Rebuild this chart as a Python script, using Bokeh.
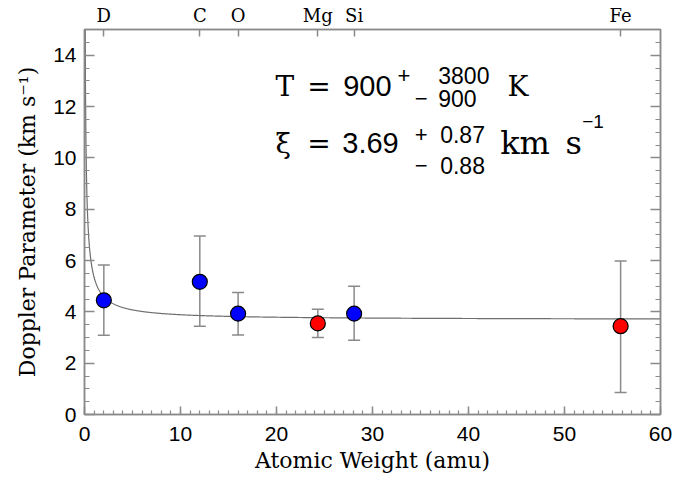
import numpy as np
from bokeh.plotting import figure
from bokeh.models import (Range1d, LinearAxis, FixedTicker, SingleIntervalTicker,
                          Whisker, TeeHead, ColumnDataSource, Label, CustomJSTickFormatter)
from bokeh.embed import file_html
from bokeh.resources import INLINE

# ---- data ----
elements = ["D", "C", "O", "Mg", "Si", "Fe"]
atomic_weight = [2.014, 12.011, 15.999, 24.305, 28.086, 55.845]
b_value = [4.45, 5.17, 3.93, 3.55, 3.93, 3.44]
b_upper = [5.82, 6.95, 4.75, 4.10, 5.00, 5.98]
b_lower = [3.09, 3.44, 3.10, 3.00, 2.89, 0.86]
point_color = ["blue", "blue", "blue", "red", "blue", "red"]

# fitted model parameters (shown in the annotation)
T_FIT = 900.0      # K
XI_FIT = 3.69      # km/s

# model curve b = sqrt(2kT/m + xi^2)
model_A = np.linspace(0.05, 60, 1200)
model_b = np.sqrt(2 * 1.380649e-23 * T_FIT / (model_A * 1.66054e-27) / 1e6 + XI_FIT ** 2)

GRAY = "#8a8a8a"
SERIF = "DejaVu Serif"
SANS = "Liberation Sans"

p = figure(frame_width=576, frame_height=385,
           x_range=Range1d(0, 60), y_range=Range1d(0, 15),
           output_backend="svg", toolbar_location=None,
           min_border_left=84, min_border_right=18,
           min_border_top=29, min_border_bottom=66,
           background_fill_color="white", border_fill_color="white")
p.grid.visible = False
p.outline_line_color = GRAY
p.outline_line_width = 1.5

# bottom axis
xa = p.xaxis[0]
xa.ticker = SingleIntervalTicker(interval=10, num_minor_ticks=10)
xa.axis_label = "Atomic Weight (amu)"
# left axis
ya = p.yaxis[0]
ya.ticker = SingleIntervalTicker(interval=2, num_minor_ticks=4)
ya.axis_label = "Doppler Parameter (km s\u207b\u00b9)"

for ax in (xa, ya):
    ax.axis_line_color = GRAY
    ax.axis_line_width = 1.5
    ax.major_tick_line_color = GRAY
    ax.minor_tick_line_color = GRAY
    ax.major_tick_line_width = 1.5
    ax.minor_tick_line_width = 1.2
    ax.major_tick_out = 0
    ax.minor_tick_out = 0
    ax.major_label_text_font = SANS
    ax.major_label_text_font_size = "21px"
    ax.major_label_text_color = "black"
    ax.axis_label_text_font = SERIF
    ax.axis_label_text_font_size = "22px"
    ax.axis_label_text_font_style = "normal"
    ax.axis_label_text_color = "black"

xa.major_tick_in = 8
xa.minor_tick_in = 4
xa.major_label_standoff = 12
xa.axis_label_standoff = 4
ya.major_tick_in = 10
ya.minor_tick_in = 5
ya.major_label_standoff = 8
ya.axis_label_standoff = 10

# right axis (ticks only)
ra = LinearAxis(ticker=SingleIntervalTicker(interval=2, num_minor_ticks=4),
                formatter=CustomJSTickFormatter(code="return ''"))
ra.major_label_standoff = 0
ra.axis_line_color = GRAY
ra.axis_line_width = 1.5
ra.major_tick_line_color = GRAY
ra.minor_tick_line_color = GRAY
ra.major_tick_line_width = 1.5
ra.minor_tick_line_width = 1.2
ra.major_tick_out = 0
ra.minor_tick_out = 0
ra.major_tick_in = 10
ra.minor_tick_in = 5
p.add_layout(ra, "right")

# top axis with element labels
ta = LinearAxis(ticker=FixedTicker(ticks=atomic_weight, minor_ticks=[]),
                major_label_overrides={w: e for w, e in zip(atomic_weight, elements)})
ta.axis_line_color = GRAY
ta.axis_line_width = 1.5
ta.major_tick_line_color = GRAY
ta.major_tick_line_width = 1.5
ta.major_tick_out = 0
ta.major_tick_in = 7
ta.minor_tick_out = 0
ta.minor_tick_in = 0
ta.major_label_standoff = 4
ta.major_label_text_font = SERIF
ta.major_label_text_font_size = "18px"
ta.major_label_text_color = "black"
p.add_layout(ta, "above")

# model curve
p.line(model_A, model_b, line_color="#6e6e6e", line_width=1.2)

# error bars
src = ColumnDataSource(dict(x=atomic_weight, y=b_value, up=b_upper, lo=b_lower, c=point_color))
p.add_layout(Whisker(source=src, base="x", upper="up", lower="lo",
                     line_color=GRAY, line_width=1.5,
                     upper_head=TeeHead(size=12, line_color=GRAY, line_width=1.5),
                     lower_head=TeeHead(size=12, line_color=GRAY, line_width=1.5)))

# points
p.scatter("x", "y", source=src, size=15, fill_color="c", line_color="black", line_width=1.2)

# annotation
ann = [
    # text, x, y, font, size
    ("T", 19.9, 12.79, SERIF, "28px"),
    ("=", 23.2, 12.79, SERIF, "28px"),
    ("900", 26.95, 12.79, SANS, "29px"),
    ("+", 32.6, 13.22, SANS, "22px"),
    ("3800", 36.85, 13.22, SANS, "23px"),
    ("\u2212", 34.4, 12.32, SANS, "22px"),
    ("900", 36.85, 12.32, SANS, "23px"),
    ("K", 44.05, 12.79, SERIF, "28px"),
    ("\u03be", 19.9, 10.57, SERIF, "28px"),
    ("=", 23.2, 10.57, SERIF, "28px"),
    ("3.69", 26.85, 10.57, SANS, "29px"),
    ("+", 34.4, 10.92, SANS, "22px"),
    ("0.87", 37.05, 10.92, SANS, "23px"),
    ("\u2212", 34.4, 9.71, SANS, "22px"),
    ("0.88", 37.05, 9.71, SANS, "23px"),
    ("km", 43.3, 10.57, SERIF, "32px"),
    ("s", 50.1, 10.57, SERIF, "32px"),
    ("\u22121", 51.85, 11.43, SANS, "19px"),
]
for t, x, y, f, s in ann:
    p.add_layout(Label(x=x, y=y, text=t, text_font=f, text_font_size=s,
                       text_align="left", text_baseline="middle", text_color="black"))

open("out.html", "w").write(file_html(p, INLINE))
